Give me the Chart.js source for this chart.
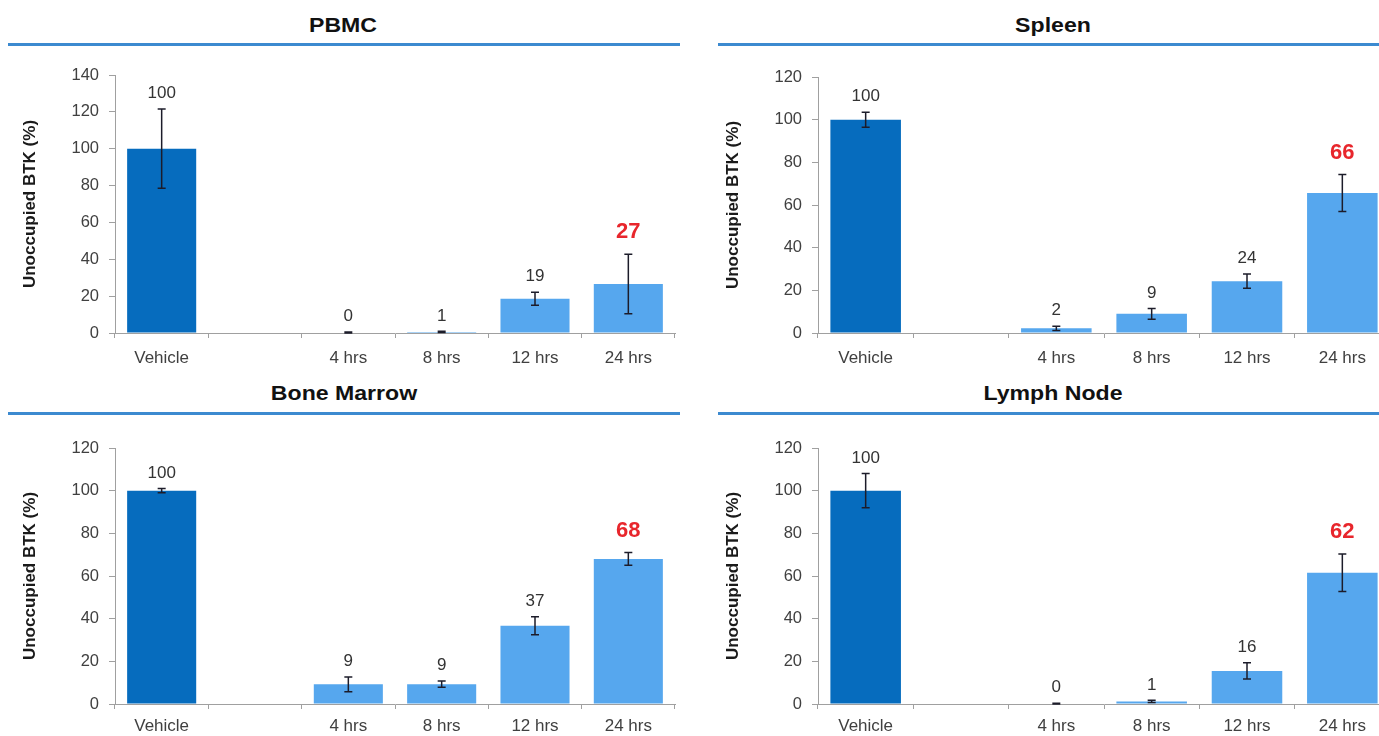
<!DOCTYPE html>
<html>
<head>
<meta charset="utf-8">
<title>Unoccupied BTK</title>
<script src="https://cdn.jsdelivr.net/npm/chart.js@4.4.1/dist/chart.umd.min.js"></script>
<style>
  html, body { margin: 0; padding: 0; background: #fff; }
  body { width: 1379px; height: 736px; position: relative; overflow: hidden; font-family: "Liberation Sans", Arial, sans-serif; }
  .title { position: absolute; width: 400px; margin-left: -200px; text-align: center; font-weight: bold; font-size: 21px; color: #111; line-height: 24px; transform: scaleX(1.1); }
  .rule { position: absolute; height: 3px; background: #3c8ad0; }
  canvas { position: absolute; }
</style>
</head>
<body>
  <div class="title" style="left:343px; top:13px;">PBMC</div>
  <div class="rule" style="left:8px; width:672px; top:43px;"></div>
  <div class="title" style="left:1053px; top:13px;">Spleen</div>
  <div class="rule" style="left:718px; width:661px; top:43px;"></div>
  <div class="title" style="left:344px; top:381px;">Bone Marrow</div>
  <div class="rule" style="left:8px; width:672px; top:412px;"></div>
  <div class="title" style="left:1053px; top:381px;">Lymph Node</div>
  <div class="rule" style="left:718px; width:661px; top:412px;"></div>

  <canvas id="pbmc" width="690" height="320" style="left:0; top:50px;"></canvas>
  <canvas id="spleen" width="702" height="320" style="left:703px; top:50px;"></canvas>
  <canvas id="marrow" width="690" height="316" style="left:0; top:420px;"></canvas>
  <canvas id="lymph" width="702" height="316" style="left:703px; top:420px;"></canvas>

<script>
// categories (blank slot between Vehicle and 4 hrs)
const categories = ['Vehicle', '', '4 hrs', '8 hrs', '12 hrs', '24 hrs'];

// mean values and +/- error
const pbmcValues = [100, null, 0.3, 0.6, 18.6, 26.6];
const pbmcErrors = [21.5, null, 0.3, 0.3, 3.5, 16.2];

const spleenValues = [100, null, 2.2, 9, 24.3, 65.6];
const spleenErrors = [3.5, null, 1, 2.5, 3.3, 8.7];

const marrowValues = [100, null, 9.2, 9.3, 36.7, 68];
const marrowErrors = [1, null, 3.5, 1.5, 4.2, 3];

const lymphValues = [100, null, 0.2, 1.2, 15.5, 61.5];
const lymphErrors = [8, null, 0.2, 0.5, 3.8, 8.8];

const yTicksTop = 140;
const yTicksOther = 120;
const yStep = 20;

const darkBlue = '#066cbe';
const lightBlue = '#56a7ee';
const axisGrey = '#a0a0a0';

Chart.defaults.font.family = '"Liberation Sans", Arial, sans-serif';
Chart.defaults.color = '#404040';

// error bars drawn from the y scale
const errorBars = {
  id: 'errorBars',
  afterDatasetsDraw(chart, args, opts) {
    const ctx = chart.ctx;
    const y = chart.scales.y;
    const values = chart.data.datasets[0].data;
    const meta = chart.getDatasetMeta(0);
    ctx.save();
    ctx.strokeStyle = '#1c1c2a';
    ctx.lineWidth = 1.5;
    meta.data.forEach((bar, i) => {
      const v = values[i], e = opts.errors[i];
      if (v == null || e == null) return;
      const top = y.getPixelForValue(v + e);
      const bot = y.getPixelForValue(Math.max(0, v - e));
      ctx.beginPath();
      ctx.moveTo(bar.x, top); ctx.lineTo(bar.x, bot);
      ctx.moveTo(bar.x - 4, top); ctx.lineTo(bar.x + 4, top);
      ctx.moveTo(bar.x - 4, bot); ctx.lineTo(bar.x + 4, bot);
      ctx.stroke();
    });
    ctx.restore();
  }
};

// value labels above each bar (last one in red)
const valueLabels = {
  id: 'valueLabels',
  afterDatasetsDraw(chart, args, opts) {
    const ctx = chart.ctx;
    const y = chart.scales.y;
    const values = chart.data.datasets[0].data;
    const meta = chart.getDatasetMeta(0);
    ctx.save();
    ctx.textAlign = 'center';
    ctx.textBaseline = 'bottom';
    meta.data.forEach((bar, i) => {
      const v = values[i];
      if (v == null) return;
      const e = opts.errors[i] || 0;
      const top = Math.min(bar.y, y.getPixelForValue(v + e));
      const last = i === values.length - 1;
      if (last) {
        ctx.font = 'bold 22px "Liberation Sans", Arial, sans-serif';
        ctx.fillStyle = '#e8262c';
        ctx.fillText(String(Math.round(v)), bar.x, top - 11);
      } else {
        ctx.font = '17px "Liberation Sans", Arial, sans-serif';
        ctx.fillStyle = '#333';
        ctx.fillText(String(Math.round(v)), bar.x, top - 7);
      }
    });
    ctx.restore();
  }
};

function makeChart(id, values, errors, yMax, padTop, xHeight, xPad) {
  return new Chart(document.getElementById(id), {
    type: 'bar',
    data: {
      labels: categories,
      datasets: [{
        data: values,
        backgroundColor: values.map((v, i) => i === 0 ? darkBlue : lightBlue),
        borderWidth: 0,
        barPercentage: 0.74,
        categoryPercentage: 1
      }]
    },
    options: {
      responsive: false,
      animation: false,
      layout: { padding: { top: padTop, right: 15, left: 0, bottom: 0 } },
      plugins: {
        legend: { display: false },
        tooltip: { enabled: false },
        errorBars: { errors: errors },
        valueLabels: { errors: errors }
      },
      scales: {
        x: {
          afterFit: s => { s.height = xHeight; },
          grid: { offset: true, drawOnChartArea: false, tickLength: 5, color: axisGrey },
          border: { color: axisGrey },
          ticks: { font: { size: 17 }, color: '#404040', padding: xPad, maxRotation: 0 }
        },
        y: {
          min: 0,
          max: yMax,
          afterFit: s => { s.width = 115; },
          grid: { drawOnChartArea: false, tickLength: 6, color: axisGrey },
          border: { color: axisGrey },
          ticks: { stepSize: yStep, font: { size: 16.5 }, color: '#404040', padding: 10 },
          title: {
            display: true,
            text: 'Unoccupied BTK (%)',
            font: { size: 17, weight: 'bold' },
            color: '#1a1a1a',
            padding: { top: 20 }
          }
        }
      }
    },
    plugins: [errorBars, valueLabels]
  });
}

makeChart('pbmc', pbmcValues, pbmcErrors, yTicksTop, 25, 37, 10);
makeChart('spleen', spleenValues, spleenErrors, yTicksOther, 27, 37, 10);
makeChart('marrow', marrowValues, marrowErrors, yTicksOther, 28, 32, 7);
makeChart('lymph', lymphValues, lymphErrors, yTicksOther, 28, 32, 7);
</script>
</body>
</html>
